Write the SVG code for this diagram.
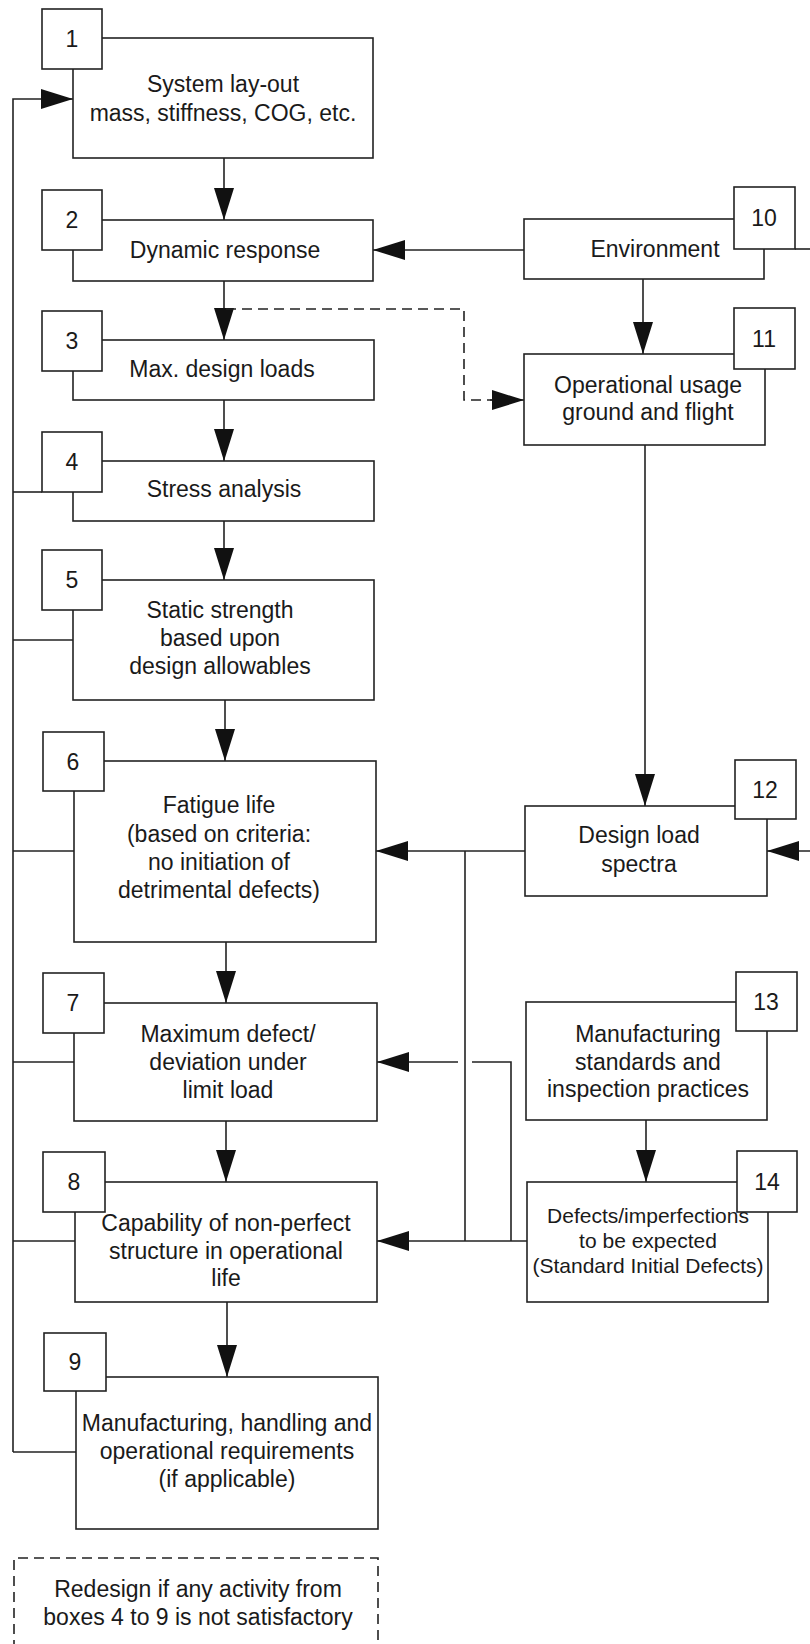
<svg xmlns="http://www.w3.org/2000/svg" width="810" height="1644" viewBox="0 0 810 1644">
  <style>
    .box { fill: #ffffff; stroke: #222222; stroke-width: 1.6; }
    .num { fill: #ffffff; stroke: #222222; stroke-width: 1.6; }
    .t { font-family: "Liberation Sans", Arial, sans-serif; font-size: 23px; fill: #1a1a1a; text-anchor: middle; }
    .ts { font-family: "Liberation Sans", Arial, sans-serif; font-size: 21px; fill: #1a1a1a; text-anchor: middle; }
    .line { fill: none; stroke: #222222; stroke-width: 1.6; }
    .arrow { fill: none; stroke: #222222; stroke-width: 1.6; marker-end: url(#head); }
    .dash { fill: none; stroke: #222222; stroke-width: 1.6; stroke-dasharray: 10 6; }
  </style>
  <defs>
    <marker id="head" markerUnits="userSpaceOnUse" markerWidth="34" markerHeight="22" refX="32" refY="11" orient="auto">
      <path d="M0,1 L32,11 L0,21 z" fill="#111111"/>
    </marker>
  </defs>
  <rect width="810" height="1644" fill="#ffffff"/>

  <!-- connectors -->
  <g id="connectors">
    <!-- main chain 1 to 9 -->
    <line class="arrow" x1="224" y1="158" x2="224" y2="220"/>
    <line class="arrow" x1="224" y1="281" x2="224" y2="340"/>
    <line class="arrow" x1="224" y1="400" x2="224" y2="461"/>
    <line class="arrow" x1="224" y1="521" x2="224" y2="580"/>
    <line class="arrow" x1="225" y1="700" x2="225" y2="761"/>
    <line class="arrow" x1="226" y1="942" x2="226" y2="1003"/>
    <line class="arrow" x1="226" y1="1121" x2="226" y2="1182"/>
    <line class="arrow" x1="227" y1="1302" x2="227" y2="1377"/>

    <!-- right column -->
    <line class="arrow" x1="524" y1="250" x2="373" y2="250"/>
    <line class="arrow" x1="643" y1="279" x2="643" y2="354"/>
    <line class="arrow" x1="645" y1="445" x2="645" y2="806"/>
    <line class="arrow" x1="646" y1="1120" x2="646" y2="1182"/>
    <line class="line" x1="795" y1="249" x2="812" y2="249"/>
    <line class="arrow" x1="812" y1="851" x2="767" y2="851"/>

    <!-- dashed link from loads to operational usage -->
    <path class="dash" d="M226,309 H464 V400 H492"/>
    <line class="arrow" x1="490" y1="400" x2="524" y2="400"/>

    <!-- load spectra and defects to boxes 6, 7, 8 -->
    <line class="arrow" x1="525" y1="851" x2="376" y2="851"/>
    <line class="line" x1="465" y1="851" x2="465" y2="1241"/>
    <line class="arrow" x1="527" y1="1241" x2="377" y2="1241"/>
    <path class="line" d="M511,1241 V1062 H472"/>
    <line class="arrow" x1="458" y1="1062" x2="377" y2="1062"/>

    <!-- redesign feedback loop -->
    <path class="arrow" d="M13,1452 V99 H73"/>
    <line class="line" x1="13" y1="492" x2="42" y2="492"/>
    <line class="line" x1="13" y1="640" x2="73" y2="640"/>
    <line class="line" x1="13" y1="851" x2="74" y2="851"/>
    <line class="line" x1="13" y1="1062" x2="74" y2="1062"/>
    <line class="line" x1="13" y1="1241" x2="75" y2="1241"/>
    <line class="line" x1="13" y1="1452" x2="76" y2="1452"/>
  </g>

  <g id="box1">
    <rect class="box" x="73" y="38" width="300" height="120"/>
    <rect class="num" x="42" y="9" width="60" height="60"/>
    <text class="t" x="72" y="47">1</text>
    <text class="t" x="223" y="92">System lay-out</text>
    <text class="t" x="223" y="121">mass, stiffness, COG, etc.</text>
  </g>
  <g id="box2">
    <rect class="box" x="73" y="220" width="300" height="61"/>
    <rect class="num" x="42" y="190" width="60" height="60"/>
    <text class="t" x="72" y="228">2</text>
    <text class="t" x="225" y="258">Dynamic response</text>
  </g>
  <g id="box3">
    <rect class="box" x="73" y="340" width="301" height="60"/>
    <rect class="num" x="42" y="311" width="60" height="60"/>
    <text class="t" x="72" y="349">3</text>
    <text class="t" x="222" y="377">Max. design loads</text>
  </g>
  <g id="box4">
    <rect class="box" x="73" y="461" width="301" height="60"/>
    <rect class="num" x="42" y="432" width="60" height="60"/>
    <text class="t" x="72" y="470">4</text>
    <text class="t" x="224" y="497">Stress analysis</text>
  </g>
  <g id="box5">
    <rect class="box" x="73" y="580" width="301" height="120"/>
    <rect class="num" x="42" y="550" width="60" height="60"/>
    <text class="t" x="72" y="588">5</text>
    <text class="t" x="220" y="618">Static strength</text>
    <text class="t" x="220" y="646">based upon</text>
    <text class="t" x="220" y="674">design allowables</text>
  </g>
  <g id="box6">
    <rect class="box" x="74" y="761" width="302" height="181"/>
    <rect class="num" x="43" y="732" width="61" height="59"/>
    <text class="t" x="73" y="770">6</text>
    <text class="t" x="219" y="813">Fatigue life</text>
    <text class="t" x="219" y="842">(based on criteria:</text>
    <text class="t" x="219" y="870">no initiation of</text>
    <text class="t" x="219" y="898">detrimental defects)</text>
  </g>
  <g id="box7">
    <rect class="box" x="74" y="1003" width="303" height="118"/>
    <rect class="num" x="43" y="973" width="61" height="60"/>
    <text class="t" x="73" y="1011">7</text>
    <text class="t" x="228" y="1042">Maximum defect/</text>
    <text class="t" x="228" y="1070">deviation under</text>
    <text class="t" x="228" y="1098">limit load</text>
  </g>
  <g id="box8">
    <rect class="box" x="75" y="1182" width="302" height="120"/>
    <rect class="num" x="43" y="1152" width="62" height="60"/>
    <text class="t" x="74" y="1190">8</text>
    <text class="t" x="226" y="1231">Capability of non-perfect</text>
    <text class="t" x="226" y="1259">structure in operational</text>
    <text class="t" x="226" y="1286">life</text>
  </g>
  <g id="box9">
    <rect class="box" x="76" y="1377" width="302" height="152"/>
    <rect class="num" x="44" y="1333" width="62" height="58"/>
    <text class="t" x="75" y="1370">9</text>
    <text class="t" x="227" y="1431">Manufacturing, handling and</text>
    <text class="t" x="227" y="1459">operational requirements</text>
    <text class="t" x="227" y="1487">(if applicable)</text>
  </g>
  <g id="box10">
    <rect class="box" x="524" y="219" width="240" height="60"/>
    <rect class="num" x="734" y="187" width="61" height="62"/>
    <text class="t" x="764" y="226">10</text>
    <text class="t" x="655" y="257">Environment</text>
  </g>
  <g id="box11">
    <rect class="box" x="524" y="354" width="241" height="91"/>
    <rect class="num" x="734" y="308" width="61" height="61"/>
    <text class="t" x="764" y="347">11</text>
    <text class="t" x="648" y="393">Operational usage</text>
    <text class="t" x="648" y="420">ground and flight</text>
  </g>
  <g id="box12">
    <rect class="box" x="525" y="806" width="242" height="90"/>
    <rect class="num" x="735" y="760" width="61" height="59"/>
    <text class="t" x="765" y="798">12</text>
    <text class="t" x="639" y="843">Design load</text>
    <text class="t" x="639" y="872">spectra</text>
  </g>
  <g id="box13">
    <rect class="box" x="526" y="1002" width="241" height="118"/>
    <rect class="num" x="736" y="972" width="61" height="59"/>
    <text class="t" x="766" y="1010">13</text>
    <text class="t" x="648" y="1042">Manufacturing</text>
    <text class="t" x="648" y="1070">standards and</text>
    <text class="t" x="648" y="1097">inspection practices</text>
  </g>
  <g id="box14">
    <rect class="box" x="527" y="1182" width="241" height="120"/>
    <rect class="num" x="737" y="1151" width="60" height="61"/>
    <text class="t" x="767" y="1190">14</text>
    <text class="ts" x="648" y="1223">Defects/imperfections</text>
    <text class="ts" x="648" y="1248">to be expected</text>
    <text class="ts" x="648" y="1273">(Standard Initial Defects)</text>
  </g>
  <g id="note">
    <path class="dash" d="M14,1650 V1558 H378 V1650"/>
    <text class="t" x="198" y="1597">Redesign if any activity from</text>
    <text class="t" x="198" y="1625">boxes 4 to 9 is not satisfactory</text>
  </g>
</svg>
